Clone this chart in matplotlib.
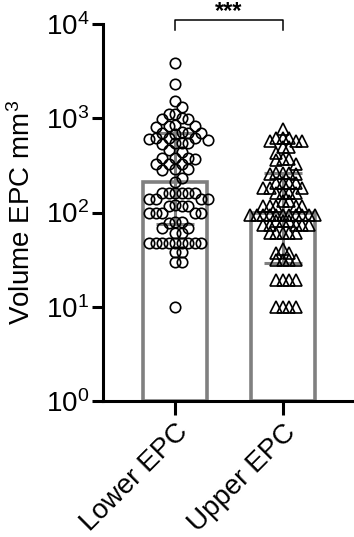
import numpy as np
import matplotlib
matplotlib.use("Agg")
import matplotlib.pyplot as plt
from matplotlib.ticker import FixedLocator, NullLocator

# values
categories = ["Lower EPC", "Upper EPC"]
lower_epc = [3870, 2320, 1530, 1320, 1120, 1100, 1000, 990, 970,
             850, 830, 830, 810, 720, 700, 700, 700, 680,
             620, 610, 610, 600, 590, 550, 540, 540, 530, 460, 440,
             380, 380, 380, 370, 330, 330, 325, 290, 290, 285, 235, 210,
             163, 163, 163, 163, 163, 163, 140, 140, 140, 140,
             120, 118, 118, 116, 98, 98, 98, 98, 98, 80, 79, 78, 68, 68,
             60, 60, 48, 48, 48, 48, 48, 48, 48, 48, 48, 38, 38, 30, 30, 10]
upper_epc = [776, 620, 620, 620, 580, 575, 570, 490, 490, 430,
             370, 370, 365, 330, 260, 260, 260, 255, 255,
             207, 207, 205, 205, 184, 184, 182, 163, 163, 163, 160,
             133, 133, 118, 118, 118, 118, 118,
             95, 95, 95, 95, 95, 95, 95, 95, 95, 95, 95,
             82, 82, 82, 73, 73, 73, 73, 73, 60, 60, 60, 60, 60,
             41, 37, 37, 31, 31, 31, 31, 19, 19, 19, 19, 10, 10, 10, 10]
bar_median = [210, 98]
err_low = [76, 29]
err_high = [700, 265]

plt.rcParams['font.family'] = ['Liberation Sans', 'DejaVu Sans']
plt.rcParams['mathtext.fontset'] = 'custom'
plt.rcParams['mathtext.rm'] = 'Liberation Sans'
plt.rcParams['mathtext.default'] = 'regular'

gray = '#808080'
lw = 2.2

fig = plt.figure(figsize=(3.54, 5.37), dpi=100)
ax = fig.add_axes([103 / 354, 136 / 537, 252 / 354, 377 / 537])
ax.set_yscale('log')
ax.set_ylim(1, 1e4)
ax.set_xlim(-0.667, 1.667)

x = np.arange(len(categories))
med = np.array(bar_median, dtype=float)
ax.bar(x, med - 1, bottom=1, width=0.6, facecolor='none',
       edgecolor=gray, linewidth=2.6, zorder=1)
ax.errorbar(x, med, yerr=[med - np.array(err_low), np.array(err_high) - med],
            fmt='none', ecolor=gray, elinewidth=lw, capsize=14, capthick=lw, zorder=2)


def swarm(values, center, dx_min=6.5, dy_min=9.0, step=0.5):
    # row-style beeswarm in pixel space so markers spread sideways
    vals = np.asarray(values, dtype=float)
    pts = ax.transData.transform(np.column_stack([np.full(len(vals), center), vals]))
    ys = pts[:, 1]
    px_unit = ax.transData.transform((1, 1))[0] - ax.transData.transform((0, 1))[0]
    offs = np.zeros(len(vals))
    placed = []
    for i in np.argsort(-ys):
        k = 0
        while True:
            cands = [0.0] if k == 0 else [k * step, -k * step]
            ok = None
            for c in cands:
                if all(abs(c - px) >= dx_min or abs(ys[i] - py) >= dy_min for px, py in placed):
                    ok = c
                    break
            if ok is not None:
                break
            k += 1
        placed.append((ok, ys[i]))
        offs[i] = ok
    return center + offs / px_unit, vals


xs, ys = swarm(lower_epc, 0)
ax.plot(xs, ys, 'o', mfc='none', mec='black', ms=7.5, mew=1.2, zorder=3, clip_on=False)
xs, ys = swarm(upper_epc, 1, dy_min=5.5)
ax.plot(xs, ys, '^', mfc='none', mec='black', ms=8.5, mew=1.2, zorder=3, clip_on=False)

# axes styling
for s in ['top', 'right']:
    ax.spines[s].set_visible(False)
for s in ['left', 'bottom']:
    ax.spines[s].set_linewidth(lw)

yt = [1, 10, 100, 1000, 10000]
ax.yaxis.set_major_locator(FixedLocator(yt))
ax.yaxis.set_minor_locator(NullLocator())
ax.set_yticklabels([r'$10^{%d}$' % i for i in range(5)])
ax.tick_params(axis='y', length=8, width=lw, pad=2, labelsize=20)
ax.set_xticks(x)
ax.set_xticklabels(categories, rotation=45, ha='right', rotation_mode='anchor', fontsize=20)
ax.tick_params(axis='x', length=10, width=lw, pad=3)
ax.set_ylabel('Volume EPC mm$^3$', fontsize=20)
ax.yaxis.set_label_coords(-0.266, 0.5)

# significance bracket
ax.plot([0, 0, 1, 1], [10 ** 3.94, 10 ** 4.04, 10 ** 4.04, 10 ** 3.94],
        color='black', lw=1.1, clip_on=False)
ax.text(0.5, 10 ** 4.06, '***', ha='center', va='baseline', fontsize=17,
        fontweight='bold', clip_on=False)

fig.savefig('out.png', dpi=100)
